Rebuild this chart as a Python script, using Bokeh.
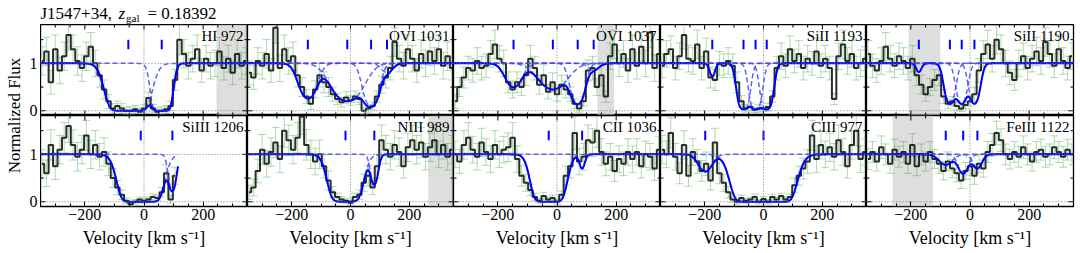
import numpy as np
from bokeh.plotting import figure
from bokeh.layouts import row, column
from bokeh.models import Range1d, FixedTicker, Span, BoxAnnotation, Whisker, ColumnDataSource, TeeHead
from bokeh.core.properties import value
from bokeh.embed import file_html
from bokeh.resources import INLINE

# ---------------- data ----------------
sightline = "J1547+34,"
z_gal = "0.18392"
x_ticks = [-200, 0, 200]
x_tick_labels = ["\u2212200", "0", "200"]
x_minor = [-350, -300, -250, -150, -100, -50, 50, 100, 150, 250, 300, 350]
y_ticks = [0, 1]
y_tick_labels = ["0", "1"]
y_minor = [0.5, 1.5]

vel = list(range(-345, 346, 15))          # bin centres, km/s (47 bins)
vel_SiIII = vel[:31]                      # SiIII spectrum stops at ~+110 km/s

flux_HI972 = [1.05, 1.25, 0.60, 1.30, 0.85, 1.15, 1.60, 1.30, 1.05, 0.90,
              1.15, 1.35, 1.00, 0.75, 0.45, 0.20, 0.05, 0.10, 0.05, 0.00,
              0.00, 0.03, -0.02, 0.05, 0.27, 0.05, -0.02, 0.00, 0.03, 0.10,
              0.65, 1.50, 1.20, 0.95, 1.10, 1.30, 0.85, 1.10, 0.95, 1.00,
              1.25, 0.90, 1.10, 0.80, 1.20, 0.95, 1.05]
err_HI972 = [.30, .30, .25, .30, .28, .30, .32, .30, .30, .28,
             .30, .30, .28, .25, .20, .15, .10, .10, .10, .08,
             .08, .08, .08, .08, .12, .08, .08, .08, .08, .10,
             .22, .32, .30, .28, .28, .30, .25, .28, .28, .28,
             .30, .25, .28, .25, .30, .28, .28]

flux_OVI1031 = [0.80, 0.70, 1.05, 0.95, 1.20, 0.85, 1.75, 0.90, 1.30, 1.05,
                1.15, 0.75, 0.50, 0.30, 0.15, 0.45, 0.75, 0.60, 0.50, 0.35,
                0.25, 0.18, 0.28, 0.22, 0.30, 0.25, 0.00, 0.05, 0.10, 0.30,
                0.55, 0.70, 0.90, 1.45, 1.10, 0.95, 1.30, 1.10, 0.85, 1.20,
                1.00, 1.25, 1.05, 1.30, 0.95, 1.15, 0.90]
err_OVI1031 = [.25, .25, .28, .28, .30, .25, .32, .28, .30, .28,
               .30, .25, .20, .15, .12, .18, .25, .22, .20, .15,
               .12, .10, .12, .10, .12, .12, .08, .08, .08, .12,
               .18, .22, .25, .30, .28, .28, .30, .28, .25, .30,
               .28, .30, .28, .30, .28, .30, .25]

flux_OVI1037 = [0.20, 0.50, 0.70, 0.90, 0.85, 1.05, 0.90, 0.95, 1.20, 1.40,
                1.10, 1.00, 0.60, 0.45, 0.60, 0.50, 0.75, 1.10, 0.90, 0.55,
                0.75, 0.40, 0.60, 0.35, 0.55, 0.45, 0.35, 0.15, 0.05, 0.20,
                0.85, 0.90, 0.50, 0.75, 0.30, 1.15, 1.40, 1.00, 1.20, 0.85,
                1.30, 0.95, 1.35, 1.00, 1.65, 0.90, 1.20]
err_OVI1037 = [.15, .20, .22, .25, .25, .28, .25, .25, .28, .30,
               .28, .28, .22, .18, .22, .18, .22, .28, .25, .20,
               .22, .15, .20, .15, .20, .18, .15, .10, .08, .10,
               .22, .25, .18, .22, .12, .28, .30, .28, .28, .25,
               .30, .28, .30, .28, .32, .28, .30]

flux_SiII1193 = [0.95, 1.20, 1.30, 0.90, 1.15, 1.60, 1.10, 1.05, 1.40, 0.90,
                 1.25, 0.70, 0.65, 1.00, 0.95, 1.05, 0.95, 0.60, 0.20, 0.05,
                 0.08, 0.02, 0.05, 0.04, 0.08, 0.30, 0.90, 1.15, 0.95, 1.30,
                 1.05, 1.20, 0.90, 1.10, 1.00, 1.25, 0.95, 1.10, 0.90, 0.25,
                 1.15, 1.40, 1.05, 1.20, 0.90, 1.00, 1.10]
err_SiII1193 = [.25, .28, .28, .25, .28, .30, .28, .28, .30, .25,
                .28, .22, .22, .25, .25, .28, .25, .22, .12, .08,
                .08, .06, .08, .06, .08, .12, .25, .28, .25, .28,
                .25, .28, .25, .28, .25, .28, .25, .28, .25, .12,
                .28, .30, .28, .28, .25, .28, .25]

flux_SiII1190 = [1.20, 0.95, 0.85, 1.05, 1.35, 1.10, 0.95, 1.15, 1.05, 0.90,
                 1.10, 0.75, 0.55, 0.35, 0.50, 0.65, 0.75, 0.30, 0.15, 0.20,
                 0.10, 0.05, 0.12, 0.20, 0.35, 0.85, 1.20, 1.40, 1.10, 1.50,
                 1.30, 1.00, 0.80, 0.65, 1.00, 1.15, 0.90, 1.10, 1.25, 1.05,
                 1.45, 1.20, 0.95, 1.30, 1.05, 0.90, 1.15]
err_SiII1190 = [.28, .25, .25, .28, .30, .28, .25, .28, .28, .25,
                .28, .22, .20, .15, .18, .22, .22, .15, .10, .10,
                .08, .06, .08, .10, .15, .25, .28, .30, .28, .30,
                .30, .28, .25, .22, .28, .28, .25, .28, .30, .28,
                .30, .28, .25, .30, .28, .25, .28]

flux_SiIII1206 = [0.80, 0.60, 1.20, 0.75, 1.10, 1.35, 1.60, 1.20, 0.95, 1.10,
                  1.40, 1.00, 1.20, 0.95, 1.05, 0.80, 0.50, 0.30, 0.15, 0.02,
                  -0.05, 0.00, 0.05, 0.02, 0.05, 0.10, 0.08, 0.20, 0.60, 0.05,
                  0.55]
err_SiIII1206 = [.30, .28, .32, .28, .30, .32, .35, .32, .30, .30,
                 .32, .30, .30, .28, .30, .25, .20, .15, .10, .06,
                 .05, .05, .05, .05, .05, .06, .06, .10, .18, .08,
                 .18]

flux_NIII989 = [0.20, 0.30, 0.65, 1.10, 0.80, 1.05, 1.25, 0.90, 1.50, 1.30,
                1.10, 1.35, 1.80, 1.20, 1.00, 0.85, 1.00, 0.75, 0.45, 0.20,
                0.10, 0.05, 0.02, -0.02, 0.10, 0.15, 0.40, 0.55, 0.30, 0.75,
                1.30, 1.10, 0.95, 1.20, 1.05, 0.75, 1.15, 1.30, 1.10, 1.25,
                0.95, 1.15, 1.30, 1.00, 1.20, 0.95, 1.10]
err_NIII989 = [.15, .18, .25, .32, .28, .30, .32, .28, .35, .32,
               .30, .32, .38, .32, .30, .28, .30, .25, .20, .12,
               .08, .06, .05, .05, .08, .10, .18, .22, .15, .25,
               .32, .30, .28, .30, .30, .25, .30, .32, .30, .32,
               .28, .30, .32, .28, .30, .28, .30]

flux_CII1036 = [1.00, 0.85, 1.20, 1.35, 1.10, 0.95, 1.25, 1.05, 0.90, 1.20,
                1.00, 1.10, 1.15, 1.35, 0.90, 0.55, 0.40, 0.25, 0.10, 0.02,
                0.12, 0.05, 0.08, 0.00, 0.15, 0.55, 0.75, 1.45, 0.85, 0.95,
                1.30, 1.25, 1.50, 1.05, 0.80, 0.95, 0.65, 0.90, 0.80, 1.05,
                0.90, 1.05, 0.75, 1.00, 0.95, 0.70, 1.10]
err_CII1036 = [.28, .25, .30, .32, .28, .28, .30, .28, .28, .30,
               .28, .28, .30, .32, .28, .22, .18, .12, .08, .05,
               .08, .05, .06, .05, .08, .20, .25, .35, .28, .28,
               .32, .30, .35, .28, .25, .28, .22, .28, .25, .28,
               .28, .28, .25, .28, .28, .25, .28]

flux_CIII977 = [1.10, 1.00, 1.45, 0.95, 0.60, 1.20, 0.55, 1.05, 0.85, 0.65,
                0.80, 0.45, 1.25, 0.60, 0.40, 0.20, 0.05, 0.00, 0.08, 0.02,
                0.05, 0.10, 0.00, 0.06, 0.00, 0.10, 0.05, 0.12, 0.05, 0.10,
                0.35, 0.55, 0.70, 0.85, 1.40, 0.90, 1.20, 1.00, 1.15, 0.95,
                1.30, 1.05, 0.75, 1.20, 1.50, 0.90, 1.05]
err_CIII977 = [.30, .28, .32, .28, .22, .30, .22, .28, .25, .22,
               .25, .20, .30, .22, .18, .12, .06, .05, .06, .05,
               .05, .06, .05, .05, .05, .06, .05, .06, .05, .06,
               .15, .20, .22, .25, .32, .28, .30, .28, .30, .28,
               .32, .28, .25, .30, .32, .28, .28]

flux_FeIII1122 = [0.90, 1.05, 0.85, 1.15, 1.00, 0.80, 1.10, 0.95, 1.05, 0.80,
                  1.20, 0.75, 1.00, 0.85, 1.05, 0.90, 0.80, 0.65, 0.85, 0.70,
                  0.60, 0.45, 0.65, 0.75, 0.55, 0.80, 0.70, 1.05, 1.20, 1.45,
                  1.30, 1.00, 0.90, 1.05, 0.95, 1.15, 1.00, 0.85, 1.05, 1.10,
                  0.95, 1.00, 1.15, 1.05, 0.95, 1.10, 1.00]
err_FeIII1122 = [.22, .22, .20, .24, .22, .20, .22, .22, .22, .20,
                 .24, .20, .22, .20, .22, .20, .20, .19, .20, .19,
                 .18, .17, .18, .19, .18, .19, .18, .22, .24, .25,
                 .24, .22, .21, .22, .22, .24, .22, .20, .22, .22,
                 .22, .22, .24, .22, .22, .22, .22]

# fitted components: centroid velocity, peak optical depth, width (km/s)
comp_v_HI972 = [-53, 60];              comp_tau_HI972 = [12, 10];                comp_b_HI972 = [50, 25]
comp_v_OVI1031 = [-145, -11, 70, 124]; comp_tau_OVI1031 = [1.35, 1.6, 2.3, 0.22]; comp_b_OVI1031 = [35, 60, 28, 25]
comp_v_OVI1037 = [-147, -14, 70, 124]; comp_tau_OVI1037 = [0.7, 0.8, 1.9, 0.15];  comp_b_OVI1037 = [35, 60, 26, 25]
comp_v_SiII1193 = [-174, -68, -27, 11]; comp_tau_SiII1193 = [0.32, 3.5, 3.5, 3.5]; comp_b_SiII1193 = [12, 20, 20, 20]
comp_v_SiII1190 = [-173, -68, -28, 15]; comp_tau_SiII1190 = [0.2, 1.9, 1.9, 1.9];  comp_b_SiII1190 = [12, 20, 20, 20]
comp_v_SiIII1206 = [-11, 96];          comp_tau_SiIII1206 = [15, 1.4];           comp_b_SiIII1206 = [48, 15]
comp_v_NIII989 = [-17, 81];            comp_tau_NIII989 = [8, 1.0];              comp_b_NIII989 = [41.5, 15]
comp_v_CII1036 = [-28, 85];            comp_tau_CII1036 = [10, 0.35];            comp_b_CII1036 = [40, 12]
comp_v_CIII977 = [-198, 0];            comp_tau_CIII977 = [0.45, 30];            comp_b_CIII977 = [30, 61]
comp_v_FeIII1122 = [-82, -23, 25];     comp_tau_FeIII1122 = [0.25, 0.52, 0.35];  comp_b_FeIII1122 = [30, 22, 20]

# masked (contaminated) velocity intervals
shade_HI972 = [(245, 350)]
shade_OVI1037 = [(137, 193)]
shade_SiII1190 = [(-208, -100)]
shade_NIII989 = [(264, 350)]
shade_FeIII1122 = [(-262, -125)]

panels = [
    ("HI 972", vel, flux_HI972, err_HI972, comp_v_HI972, comp_tau_HI972, comp_b_HI972, shade_HI972, 350),
    ("OVI 1031", vel, flux_OVI1031, err_OVI1031, comp_v_OVI1031, comp_tau_OVI1031, comp_b_OVI1031, [], 350),
    ("OVI 1037", vel, flux_OVI1037, err_OVI1037, comp_v_OVI1037, comp_tau_OVI1037, comp_b_OVI1037, shade_OVI1037, 350),
    ("SiII 1193", vel, flux_SiII1193, err_SiII1193, comp_v_SiII1193, comp_tau_SiII1193, comp_b_SiII1193, [], 350),
    ("SiII 1190", vel, flux_SiII1190, err_SiII1190, comp_v_SiII1190, comp_tau_SiII1190, comp_b_SiII1190, shade_SiII1190, 350),
    ("SiIII 1206", vel_SiIII, flux_SiIII1206, err_SiIII1206, comp_v_SiIII1206, comp_tau_SiIII1206, comp_b_SiIII1206, [], 115),
    ("NIII 989", vel, flux_NIII989, err_NIII989, comp_v_NIII989, comp_tau_NIII989, comp_b_NIII989, shade_NIII989, 350),
    ("CII 1036", vel, flux_CII1036, err_CII1036, comp_v_CII1036, comp_tau_CII1036, comp_b_CII1036, [], 350),
    ("CIII 977", vel, flux_CIII977, err_CIII977, comp_v_CIII977, comp_tau_CIII977, comp_b_CIII977, [], 350),
    ("FeIII 1122", vel, flux_FeIII1122, err_FeIII1122, comp_v_FeIII1122, comp_tau_FeIII1122, comp_b_FeIII1122, shade_FeIII1122, 350),
]

# ---------------- layout / style ----------------
FONT = "Liberation Serif"
FRAME_W = [207, 206, 207, 206, 207]
FRAME_H = 91
RIGHT4 = 7        # right page padding
BOTTOM1 = 21      # room for x tick labels
YLAB_W = 40       # y label + y tick labels strip
TITLE_H = 24
XLAB_H = 25
XMIN, XMAX = -350, 350
YMIN, YMAX = -0.1, 1.82
BLUE = "#0000ff"
GREEN = "#3f9f3f"
MAJ, MIN = 5, 3   # tick lengths, px


def style_axis(ax, ticks, minor, labels):
    ax.ticker = FixedTicker(ticks=ticks, minor_ticks=minor)
    ax.axis_line_color = None
    ax.major_tick_in = MAJ
    ax.major_tick_out = 0
    ax.minor_tick_in = MIN
    ax.minor_tick_out = 0
    ax.major_tick_line_color = "black"
    ax.minor_tick_line_color = "black"
    ax.major_label_text_font = FONT
    ax.major_label_text_font_size = "16px"
    ax.major_label_text_color = "black"
    ax.major_label_standoff = 2
    ax.major_label_overrides = {t: s for t, s in zip(ticks, labels)}


figs = []
for i, (label, v, f, e, cv, ctau, cb, shade, vmax) in enumerate(panels):
    r, c = divmod(i, 5)
    has_bottom = r == 1
    p = figure(frame_width=FRAME_W[c], frame_height=FRAME_H,
               x_range=Range1d(XMIN, XMAX), y_range=Range1d(YMIN, YMAX),
               output_backend="svg", toolbar_location=None,
               x_axis_location="below" if has_bottom else None,
               y_axis_location=None,
               min_border_left=0,
               min_border_right=RIGHT4 if c == 4 else 0,
               min_border_top=0, min_border_bottom=BOTTOM1 if has_bottom else 0)
    p.xgrid.visible = False
    p.ygrid.visible = False
    p.outline_line_color = "black"
    p.outline_line_width = 1.3
    p.background_fill_color = "white"
    p.border_fill_color = "white"

    if has_bottom:
        style_axis(p.xaxis[0], x_ticks, x_minor, x_tick_labels)

    # inward ticks on the sides without an axis
    dx = (XMAX - XMIN) / FRAME_W[c]
    dy = (YMAX - YMIN) / FRAME_H
    for ticks, ln in ((x_ticks, MAJ), (x_minor, MIN)):
        n = len(ticks)
        p.segment(x0=ticks, y0=[YMAX] * n, x1=ticks, y1=[YMAX - ln * dy] * n, line_color="black", line_width=1)
        if not has_bottom:
            p.segment(x0=ticks, y0=[YMIN] * n, x1=ticks, y1=[YMIN + ln * dy] * n, line_color="black", line_width=1)
    for ticks, ln in ((y_ticks, MAJ), (y_minor, MIN)):
        n = len(ticks)
        p.segment(x0=[XMAX] * n, y0=ticks, x1=[XMAX - ln * dx] * n, y1=ticks, line_color="black", line_width=1)
        p.segment(x0=[XMIN] * n, y0=ticks, x1=[XMIN + ln * dx] * n, y1=ticks, line_color="black", line_width=1)

    for (s0, s1) in shade:
        p.add_layout(BoxAnnotation(left=s0, right=s1, fill_color="#c8c8c8", fill_alpha=0.6,
                                   line_color=None, level="underlay"))

    lo = [fi - ei for fi, ei in zip(f, e)]
    hi = [fi + ei for fi, ei in zip(f, e)]
    src = ColumnDataSource(dict(v=v, lo=lo, hi=hi))
    p.add_layout(Whisker(source=src, base="v", lower="lo", upper="hi",
                         line_color=GREEN, line_alpha=0.4, line_width=1,
                         upper_head=TeeHead(size=8, line_color=GREEN, line_alpha=0.4, line_width=1),
                         lower_head=TeeHead(size=8, line_color=GREEN, line_alpha=0.4, line_width=1)))

    p.add_layout(Span(location=0, dimension="height", line_color="#777777", line_dash="1 2", line_width=1))
    p.add_layout(Span(location=0, dimension="width", line_color="#777777", line_dash="1 2", line_width=1))
    p.add_layout(Span(location=1, dimension="width", line_color="#777777", line_dash="1 2", line_width=1))

    p.step(v, f, mode="center", line_color="#111a11", line_width=2, line_alpha=0.9)

    vm = np.linspace(XMIN, vmax, 600)
    tau_tot = np.zeros_like(vm)
    for v0, t0, b in zip(cv, ctau, cb):
        tau = t0 * np.exp(-((vm - v0) / b) ** 2)
        tau_tot += tau
        p.line(vm, np.exp(-tau), line_color="#3a3aff", line_width=1.5, line_alpha=0.8, line_dash="5 3")
    p.line(vm, np.exp(-tau_tot), line_color=BLUE, line_width=2)

    p.segment(x0=cv, y0=[1.3] * len(cv), x1=cv, y1=[1.5] * len(cv), line_color=BLUE, line_width=2)

    p.text(x=[XMAX], y=[YMAX], text=[label], x_offset=-4, y_offset=3,
           text_align="right", text_baseline="top", text_font=value(FONT),
           text_font_size="15px", text_color="black")
    figs.append(p)

GRID_W = sum(FRAME_W) + RIGHT4
PAGE_W = YLAB_W + GRID_W


def blank(w, h):
    b = figure(width=w, height=h, x_range=Range1d(0, w), y_range=Range1d(h, 0),
               output_backend="svg", toolbar_location=None, x_axis_type=None, y_axis_type=None,
               min_border=0, outline_line_color=None)
    b.grid.visible = False
    return b


# title (coordinates in page pixels)
tf = blank(PAGE_W, TITLE_H)
tf.text(x=[40], y=[12.6], text=[sightline], text_baseline="middle", text_font=value(FONT),
        text_font_size="17px", text_color="black")
tf.text(x=[118], y=[12.6], text=["z"], text_baseline="middle", text_font=value(FONT),
        text_font_style="italic", text_font_size="17px", text_color="black")
tf.text(x=[125.5], y=[17.5], text=["gal"], text_baseline="middle", text_font=value(FONT),
        text_font_size="11px", text_color="black")
tf.text(x=[147], y=[12.6], text=["= " + z_gal], text_baseline="middle", text_font=value(FONT),
        text_font_size="17px", text_color="black")

# y label strip, with the y tick labels of both rows (placed with the panels' y scale)
yl_h = 2 * FRAME_H + BOTTOM1 + XLAB_H
yf = blank(YLAB_W, yl_h)
yf.text(x=[13.5], y=[FRAME_H], text=["Normalized Flux"], angle=np.pi / 2, text_align="center",
        text_baseline="middle", text_font=value(FONT), text_font_size="17px", text_color="black")
lab_y, lab_t = [], []
for r in range(2):
    for t, s in zip(y_ticks, y_tick_labels):
        lab_y.append(r * FRAME_H + (YMAX - t) / (YMAX - YMIN) * FRAME_H)
        lab_t.append(s)
yf.text(x=[YLAB_W - 3] * len(lab_y), y=lab_y, text=lab_t, text_align="right", text_baseline="middle",
        text_font=value(FONT), text_font_size="16px", text_color="black")

# x labels
xf = blank(GRID_W, XLAB_H)
centers = []
acc = 0
for w in FRAME_W:
    centers.append(acc + w / 2)
    acc += w
xf.text(x=centers, y=[10] * 5, text=["Velocity [km s\u207b\u00b9]"] * 5, text_align="center",
        text_baseline="middle", text_font=value(FONT), text_font_size="18px", text_color="black")

layout = column(tf, row(yf, column(row(*figs[:5]), row(*figs[5:]), xf)))

open("out.html", "w").write(file_html(layout, INLINE))
